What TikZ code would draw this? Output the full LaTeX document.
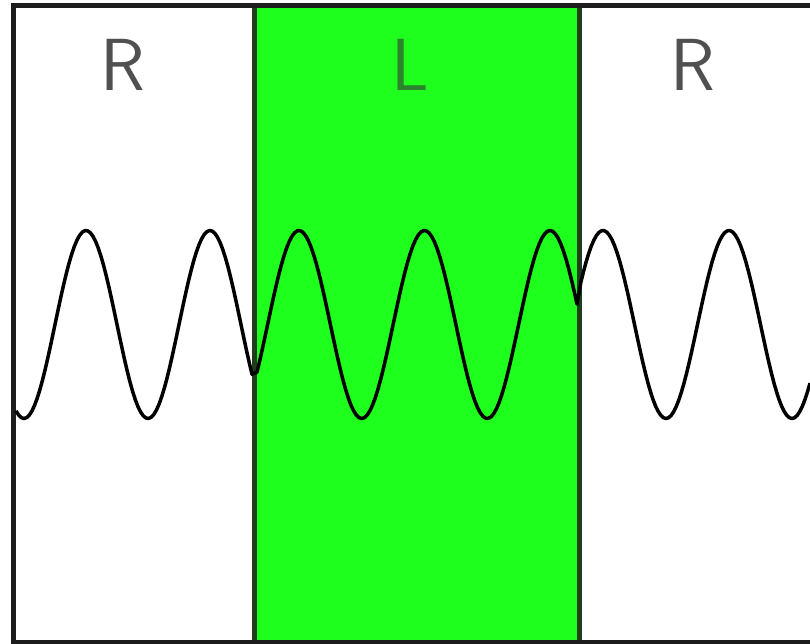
\documentclass[tikz,border=0pt]{standalone}
\definecolor{slabgreen}{RGB}{30,255,30}
\definecolor{edgegrey}{RGB}{28,28,28}
\definecolor{edgegreen}{RGB}{30,62,30}
\definecolor{labelgrey}{RGB}{80,80,80}
\definecolor{labelgreen}{RGB}{45,130,45}

\begin{document}
\begin{tikzpicture}[x=0.02cm,y=-0.02cm,font=\fontsize{42}{50}\selectfont\sffamily]
\useasboundingbox (0,0) rectangle (810,644);
\fill[white] (0,0) rectangle (810,644);
\fill[slabgreen] (254.5,5.5) rectangle (579,642);
\draw[edgegreen,line width=0.1cm] (254.5,5.5) -- (254.5,642);
\draw[edgegreen,line width=0.1cm] (579,5.5) -- (579,642);
\draw[edgegrey,line width=0.1cm] (810,5.5) -- (13.5,5.5) -- (13.5,642) -- (810,642);
\node[anchor=base,inner sep=0pt,text=labelgrey] (labLeft) at (123,91) {R};
\node[anchor=base,inner sep=0pt,text=labelgreen] (labMid) at (410,91) {L};
\node[anchor=base,inner sep=0pt,text=labelgrey] (labRight) at (693,91) {R};
% 360/124 = 2.9032, 360/125.5 = 2.8685, 360/126 = 2.8571
\draw[black,line width=0.07cm,line join=round]
  plot[domain=16:252,samples=90] (\x,{324.5-94*cos(2.9032*(\x-86))})
  -- plot[domain=257:577,samples=120] (\x,{324.5-94*cos(2.8685*(\x-299))})
  -- plot[domain=581:810,samples=90] (\x,{324.5-94*cos(2.8571*(\x-603))});
\end{tikzpicture}
\end{document}
